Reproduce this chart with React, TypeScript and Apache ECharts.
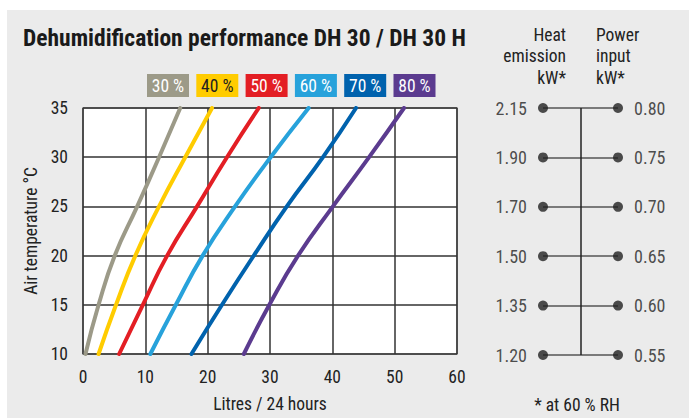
import React, { useEffect, useRef } from "react";
import * as echarts from "echarts";

const temperatures = [10, 15, 20, 25, 30, 35];
const humidityNames = ["30 %", "40 %", "50 %", "60 %", "70 %", "80 %"];
const humidityColors = ["#9c9a88", "#ffcc00", "#e31e24", "#27a2db", "#0062ad", "#5b3b8f"];
const legendTextColors = ["#ffffff", "#222222", "#ffffff", "#ffffff", "#ffffff", "#ffffff"];
const rh30 = [0.4, 2.5, 5.1, 8.7, 12.2, 15.6];
const rh40 = [2.5, 5.3, 8.4, 12.2, 16.4, 20.7];
const rh50 = [5.8, 9.6, 13.5, 18.3, 23.1, 28.2];
const rh60 = [10.8, 14.9, 19.2, 24.4, 30.1, 36.2];
const rh70 = [17.4, 22.3, 27.4, 32.7, 38.5, 43.8];
const rh80 = [25.8, 29.9, 34.5, 40.1, 45.9, 51.5];
const litresSeries = [rh30, rh40, rh50, rh60, rh70, rh80];

const rowTemperatures = [35, 30, 25, 20, 15, 10];
const heatEmission = ["2.15", "1.90", "1.70", "1.50", "1.35", "1.20"];
const powerInput = ["0.80", "0.75", "0.70", "0.65", "0.60", "0.55"];

const xTicks = [0, 10, 20, 30, 40, 50, 60];
const yTicks = [10, 15, 20, 25, 30, 35];

const FONT = "'Liberation Sans Narrow', 'Roboto Condensed', 'DejaVu Sans Condensed', Roboto, sans-serif";
const FS = 17.5;

export default function App() {
  const ref = useRef<HTMLDivElement>(null);
  useEffect(() => {
    if (!ref.current) return;
    const chart = echarts.init(ref.current, null, { renderer: "svg" });

    const curveSeries = litresSeries.map((vals, i) => ({
      type: "line",
      name: humidityNames[i],
      xAxisIndex: 0,
      yAxisIndex: 0,
      smooth: 0.5,
      showSymbol: false,
      symbol: "none",
      lineStyle: { color: humidityColors[i], width: 4, cap: "round" },
      data: vals.map((v, k) => [v, temperatures[k]]),
      z: 5,
    }));

    const legendGraphics: any[] = [];
    humidityNames.forEach((n, i) => {
      legendGraphics.push({
        type: "rect",
        left: 147 + i * 49.3,
        top: 74,
        shape: { width: 42, height: 23 },
        style: { fill: humidityColors[i] },
      });
      legendGraphics.push({
        type: "text",
        x: 147 + i * 49.3 + 21,
        y: 86,
        style: {
          text: n,
          fill: legendTextColors[i],
          font: `${FS}px ${FONT}`,
          align: "center",
          verticalAlign: "middle",
        },
      });
    });

    const option: any = {
      animation: false,
      grid: [
        {
          left: 83,
          top: 108,
          width: 374,
          height: 247,
          show: true,
          backgroundColor: "#ffffff",
          borderColor: "#808080",
          borderWidth: 1.5,
        },
        { left: 543, top: 108, width: 75, height: 247 },
      ],
      xAxis: [
        {
          type: "value",
          gridIndex: 0,
          min: 0,
          max: 60,
          interval: 10,
          name: "Litres / 24 hours",
          nameLocation: "middle",
          nameGap: 41,
          nameTextStyle: { color: "#222", fontSize: FS, fontFamily: FONT },
          axisLine: { show: false },
          axisTick: { show: false },
          axisLabel: {
            color: "#222",
            fontSize: FS,
            fontFamily: FONT,
            margin: 14,
            formatter: (v: number) => (xTicks.includes(v) ? String(v) : ""),
          },
          splitLine: { show: true, lineStyle: { color: "#333", width: 1.5 } },
        },
        { type: "value", gridIndex: 1, min: 0, max: 1, show: false },
      ],
      yAxis: [
        {
          type: "value",
          gridIndex: 0,
          min: 10,
          max: 35,
          interval: 5,
          name: "Air temperature °C",
          nameLocation: "middle",
          nameGap: 43,
          nameTextStyle: { color: "#222", fontSize: FS, fontFamily: FONT },
          axisLine: { show: false },
          axisTick: { show: false },
          axisLabel: {
            color: "#222",
            fontSize: FS,
            fontFamily: FONT,
            margin: 15,
            formatter: (v: number) => (yTicks.includes(v) ? String(v) : ""),
          },
          splitLine: { show: true, lineStyle: { color: "#333", width: 1.5 } },
        },
        { type: "value", gridIndex: 1, min: 10, max: 35, show: false },
      ],
      graphic: [
        {
          type: "rect",
          left: 7,
          top: 10,
          z: -10,
          shape: { width: 682, height: 408 },
          style: { fill: "#ebebeb" },
        },
        {
          type: "text",
          x: 23,
          y: 38,
          style: {
            text: "Dehumidification performance DH 30 / DH 30 H",
            fill: "#1a1a1a",
            font: `bold 23.5px ${FONT}`,
            verticalAlign: "middle",
          },
        },
        ...legendGraphics,
        {
          type: "text",
          x: 566,
          y: 24,
          style: {
            text: "Heat\nemission\nkW*",
            fill: "#222",
            font: `${FS}px ${FONT}`,
            align: "right",
            lineHeight: 21.5,
          },
        },
        {
          type: "text",
          x: 596,
          y: 24,
          style: {
            text: "Power\ninput\nkW*",
            fill: "#222",
            font: `${FS}px ${FONT}`,
            align: "left",
            lineHeight: 21.5,
          },
        },
        {
          type: "text",
          x: 577,
          y: 405,
          style: {
            text: "* at 60 % RH",
            fill: "#222",
            font: `${FS}px ${FONT}`,
            align: "center",
            verticalAlign: "middle",
          },
        },
      ],
      series: [
        ...curveSeries,
        {
          type: "scatter",
          xAxisIndex: 1,
          yAxisIndex: 1,
          symbolSize: 10,
          itemStyle: { color: "#222" },
          data: rowTemperatures.map((t, k) => ({
            value: [0, t],
            label: {
              show: true,
              position: "left",
              distance: 11,
              formatter: heatEmission[k],
              color: "#222",
              fontSize: 18,
              fontFamily: FONT,
            },
          })),
          markLine: {
            silent: true,
            symbol: "none",
            label: { show: false },
            lineStyle: { type: "solid", color: "#555", width: 1.5 },
            data: [
              ...rowTemperatures.map((t) => [
                { coord: [0, t] },
                { coord: [1, t] },
              ]),
              [
                { coord: [0.5, 10], lineStyle: { color: "#222", width: 1.5 } },
                { coord: [0.5, 35] },
              ],
            ],
          },
          z: 6,
        },
        {
          type: "scatter",
          xAxisIndex: 1,
          yAxisIndex: 1,
          symbolSize: 10,
          itemStyle: { color: "#222" },
          data: rowTemperatures.map((t, k) => ({
            value: [1, t],
            label: {
              show: true,
              position: "right",
              distance: 11,
              formatter: powerInput[k],
              color: "#222",
              fontSize: 18,
              fontFamily: FONT,
            },
          })),
          z: 6,
        },
      ],
    };
    chart.setOption(option);
    return () => chart.dispose();
  }, []);
  return (
    <div
      ref={ref}
      style={{ position: "absolute", left: 0, top: 0, width: 689, height: 418, background: "#ffffff" }}
    />
  );
}
